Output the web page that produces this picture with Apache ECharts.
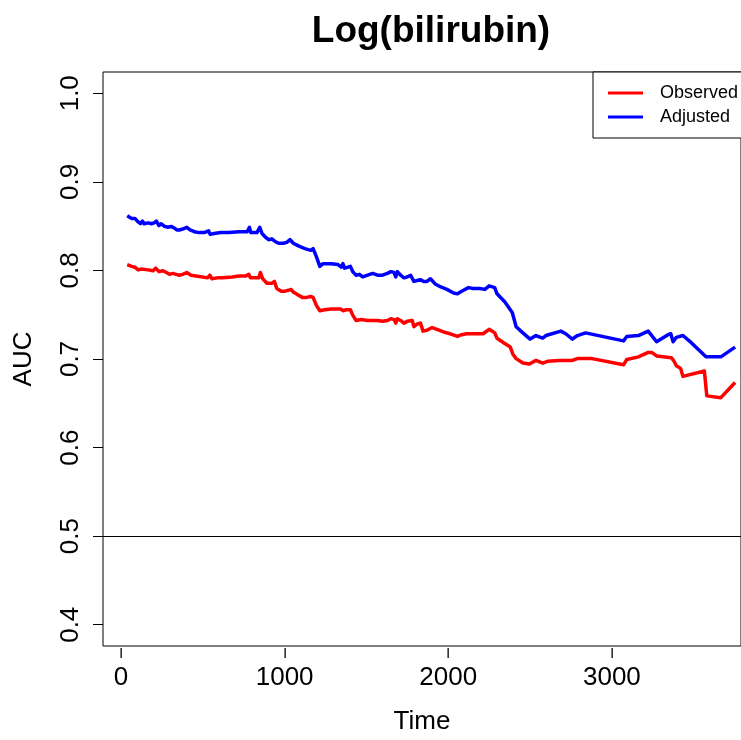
<!DOCTYPE html>
<html>
<head>
<meta charset="utf-8">
<script src="https://cdn.jsdelivr.net/npm/echarts@6/dist/echarts.min.js"></script>
<style>
html,body{margin:0;padding:0;background:#fff;}
#chart{width:741px;height:740px;}
</style>
</head>
<body>
<div id="chart"></div>
<script>
var titleText = 'Log(bilirubin)';
var seriesNames = ['Observed', 'Adjusted'];
var xTickStep = 1000;
var xTicks = [0, 1000, 2000, 3000];
var yTicks = [0.4, 0.5, 0.6, 0.7, 0.8, 0.9, 1.0];
var refLine = 0.5;

var observedTime = [38,65,85,105,125,135,166,196,212,232,256,277,297,317,337,357,377,402,428,458,499,529,543,555,589,620,680,720,761,781,791,821,842,852,866,892,922,938,952,979,1003,1023,1039,1053,1080,1108,1134,1160,1174,1194,1215,1245,1285,1342,1356,1376,1402,1416,1437,1467,1507,1568,1598,1628,1649,1669,1679,1689,1709,1729,1749,1780,1790,1810,1830,1846,1870,1901,1931,1971,2012,2056,2082,2113,2143,2213,2250,2284,2298,2345,2379,2395,2415,2456,2496,2536,2577,2607,2678,2758,2789,2879,3071,3091,3162,3222,3243,3273,3364,3380,3394,3420,3434,3565,3580,3666,3753];
var observedAUC = [.807,.805,.804,.801,.802,.800,.801,.800,.803,.799,.800,.798,.796,.797,.796,.795,.796,.798,.795,.794,.793,.792,.795,.791,.792,.792,.793,.794,.794,.796,.792,.792,.792,.798,.791,.786,.786,.788,.780,.777,.777,.778,.779,.776,.773,.770,.770,.771,.770,.761,.755,.756,.757,.757,.755,.756,.756,.750,.744,.745,.744,.744,.743,.744,.746,.745,.741,.746,.744,.741,.743,.744,.737,.740,.741,.732,.733,.736,.734,.731,.729,.726,.728,.729,.729,.729,.734,.730,.724,.718,.714,.706,.701,.696,.695,.699,.696,.698,.699,.699,.701,.701,.694,.700,.703,.708,.708,.704,.702,.698,.693,.690,.681,.687,.659,.657,.674];

var adjustedTime = [38,65,85,105,119,131,141,166,186,202,216,232,246,266,287,307,327,341,357,377,402,422,448,478,509,535,545,569,610,660,720,771,785,793,811,831,848,862,882,902,922,942,963,993,1013,1033,1053,1084,1124,1160,1174,1194,1215,1235,1285,1326,1346,1356,1366,1386,1402,1416,1437,1457,1477,1507,1538,1568,1598,1628,1649,1669,1679,1689,1709,1729,1749,1770,1780,1790,1810,1830,1850,1870,1891,1901,1921,1951,1992,2032,2056,2082,2123,2153,2193,2224,2250,2284,2298,2345,2391,2415,2456,2500,2536,2577,2597,2688,2718,2758,2789,2839,3071,3091,3162,3222,3273,3343,3360,3374,3394,3434,3485,3575,3666,3753];
var adjustedAUC = [.862,.859,.859,.855,.853,.856,.853,.854,.853,.854,.856,.851,.853,.850,.849,.850,.848,.846,.846,.847,.849,.846,.844,.843,.843,.845,.841,.842,.843,.843,.844,.844,.849,.843,.843,.843,.849,.842,.838,.835,.836,.833,.831,.831,.832,.835,.831,.828,.825,.823,.825,.816,.805,.808,.808,.807,.804,.808,.803,.804,.805,.799,.795,.796,.793,.795,.797,.795,.795,.797,.799,.798,.793,.799,.795,.792,.793,.795,.797,.788,.789,.790,.788,.788,.791,.793,.785,.782,.779,.775,.774,.777,.781,.780,.780,.779,.783,.781,.774,.765,.753,.737,.730,.723,.727,.724,.727,.732,.729,.723,.727,.730,.721,.726,.727,.732,.720,.728,.729,.720,.725,.727,.719,.703,.703,.714];

function zip(a, b) { return a.map(function (v, i) { return [v, b[i]]; }); }

var FONT = '"Liberation Sans", Arial, Helvetica, sans-serif';
var Y_MIN = 0.376, Y_MAX = 1.024;
var X_MIN = -109, X_MAX = 3789;
var TICK_LEN = 10;
var chart = echarts.init(document.getElementById('chart'), null, {renderer: 'canvas'});
chart.setOption({
  backgroundColor: '#ffffff',
  animation: false,
  title: {
    text: titleText,
    left: 426,
    top: 8,
    textAlign: 'center',
    textStyle: {fontFamily: FONT, fontSize: 37, fontWeight: 'bold', color: '#000'}
  },
  legend: {
    data: seriesNames,
    orient: 'vertical',
    left: 593,
    top: 72,
    padding: [11, 40, 11, 15],
    itemGap: 4,
    itemWidth: 35,
    itemHeight: 3,
    icon: 'rect',
    borderColor: '#000',
    borderWidth: 1,
    borderRadius: 0,
    backgroundColor: '#fff',
    textStyle: {fontFamily: FONT, fontSize: 18, color: '#000', lineHeight: 14, padding: [6, 0, 0, 12]}
  },
  grid: [
    {left: 103, right: -7, top: 72, bottom: 93, show: true, borderColor: '#000', borderWidth: 1,
     backgroundColor: 'transparent', containLabel: false},
    {left: 121, right: -7, top: 72, bottom: 93, show: false, containLabel: false}
  ],
  xAxis: [
    {
      gridIndex: 0, type: 'value', min: X_MIN, max: X_MAX,
      name: 'Time', nameLocation: 'middle', nameGap: 63,
      nameTextStyle: {fontFamily: FONT, fontSize: 26, color: '#000'},
      axisLine: {show: false, onZero: false}, axisTick: {show: false},
      axisLabel: {show: false}, splitLine: {show: false}
    },
    {
      gridIndex: 1, type: 'value', min: 0, max: X_MAX, interval: xTickStep,
      axisLine: {show: false, onZero: false},
      axisTick: {show: false},
      splitLine: {show: false},
      axisLabel: {margin: 18, fontFamily: FONT, fontSize: 26, color: '#000', showMaxLabel: false,
        formatter: function (v) { return String(v); }}
    }
  ],
  yAxis: [
    {
      gridIndex: 0, type: 'value', min: Y_MIN, max: Y_MAX,
      name: 'AUC', nameLocation: 'middle', nameRotate: 90, nameGap: 66,
      nameTextStyle: {fontFamily: FONT, fontSize: 26, color: '#000'},
      axisLine: {show: false, onZero: false}, splitLine: {show: false},
      axisTick: {show: true, length: TICK_LEN, inside: false, customValues: yTicks, lineStyle: {color: '#000', width: 1}},
      axisLabel: {customValues: yTicks, rotate: 90, margin: 19, fontFamily: FONT, fontSize: 26, color: '#000',
        formatter: function (v) { return v.toFixed(1); }}
    },
    {
      gridIndex: 1, type: 'value', min: Y_MIN, max: Y_MAX, show: false,
      axisLine: {onZero: false}, splitLine: {show: false}
    }
  ],
  series: [
    {
      type: 'line', xAxisIndex: 0, yAxisIndex: 0, data: [], silent: true,
      markLine: {
        silent: true, symbol: ['none', 'none'], label: {show: false},
        lineStyle: {color: '#000', width: 1, type: 'solid'},
        data: [{yAxis: refLine}]
      }
    },
    {
      type: 'custom', xAxisIndex: 1, yAxisIndex: 1, clip: false, silent: true, z: 100,
      data: xTicks.map(function (v) { return [v, Y_MIN]; }),
      renderItem: function (params, api) {
        var p = api.coord([api.value(0), api.value(1)]);
        return {
          type: 'rect',
          z2: 100,
          shape: {x: Math.round(p[0]) - 0.5, y: Math.round(p[1]) + 1, width: 1.3, height: TICK_LEN},
          style: {fill: '#000', stroke: null, lineWidth: 0}
        };
      }
    },
    {
      name: seriesNames[0], type: 'line', xAxisIndex: 1, yAxisIndex: 1,
      data: zip(observedTime, observedAUC),
      showSymbol: false, symbol: 'none', clip: true,
      color: '#ff0000',
      lineStyle: {color: '#ff0000', width: 3.5, join: 'round'}
    },
    {
      name: seriesNames[1], type: 'line', xAxisIndex: 1, yAxisIndex: 1,
      data: zip(adjustedTime, adjustedAUC),
      showSymbol: false, symbol: 'none', clip: true,
      color: '#0000ff',
      lineStyle: {color: '#0000ff', width: 3.5, join: 'round'}
    }
  ]
});
</script>
</body>
</html>
